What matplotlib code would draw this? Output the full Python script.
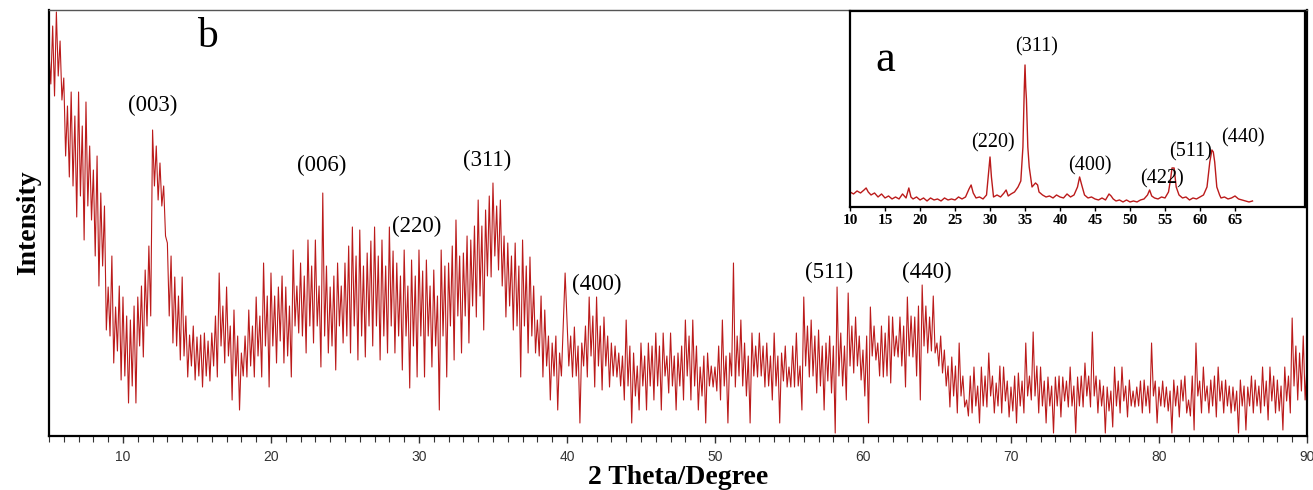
import numpy as np
import matplotlib.pyplot as plt
from matplotlib.ticker import MultipleLocator

# main pattern (b), sampled every 0.125 degree from 5 to 90 (one row = one degree)
two_theta_start = 5.0
two_theta_step = 0.125
intensity_b = [
    383, 352, 410, 340, 424, 360, 395, 336,
    358, 280, 330, 259, 344, 250, 320, 219,
    344, 240, 310, 196, 334, 230, 290, 216,
    266, 180, 280, 150, 243, 170, 230, 106,
    149, 100, 180, 73, 129, 85, 150, 56,
    139, 60, 120, 33, 116, 50, 130, 33,
    139, 90, 150, 79, 166, 110, 190, 120,
    306, 250, 290, 236, 273, 230, 250, 200,
    193, 120, 180, 93, 159, 90, 140, 76,
    159, 80, 120, 59, 101, 70, 110, 56,
    99, 60, 101, 49, 103, 60, 95, 55,
    103, 70, 120, 59, 163, 90, 130, 73,
    149, 80, 110, 36, 126, 60, 100, 26,
    83, 60, 100, 59, 126, 70, 110, 59,
    139, 80, 120, 59, 173, 90, 140, 49,
    163, 90, 140, 73, 149, 95, 160, 73,
    149, 80, 130, 59, 186, 110, 150, 103,
    173, 100, 160, 83, 196, 110, 170, 93,
    196, 110, 150, 69, 243, 100, 170, 83,
    149, 90, 160, 66, 173, 110, 150, 93,
    173, 100, 190, 83, 209, 110, 180, 76,
    206, 100, 170, 79, 183, 110, 195, 90,
    209, 110, 180, 76, 196, 100, 170, 83,
    209, 110, 185, 83, 173, 100, 160, 66,
    186, 100, 150, 48, 176, 90, 160, 59,
    186, 100, 165, 59, 176, 100, 150, 69,
    166, 90, 140, 26, 186, 100, 170, 59,
    173, 110, 190, 76, 216, 120, 180, 83,
    183, 120, 200, 93, 196, 130, 210, 119,
    236, 140, 210, 106, 226, 160, 240, 159,
    253, 180, 230, 166, 236, 150, 200, 119,
    193, 130, 180, 106, 193, 110, 170, 59,
    196, 110, 170, 83, 179, 100, 150, 83,
    116, 80, 140, 59, 126, 70, 100, 36,
    93, 60, 100, 26, 83, 60, 110, 163,
    116, 70, 100, 59, 109, 60, 90, 13,
    93, 70, 110, 59, 139, 80, 120, 49,
    139, 70, 110, 46, 119, 70, 100, 49,
    93, 60, 90, 59, 83, 50, 80, 36,
    116, 50, 90, 13, 83, 40, 70, 26,
    93, 50, 80, 26, 93, 50, 90, 36,
    103, 50, 90, 26, 103, 60, 80, 43,
    103, 50, 80, 26, 83, 50, 90, 36,
    116, 60, 100, 36, 116, 50, 90, 26,
    69, 40, 80, 13, 83, 50, 70, 49,
    69, 45, 90, 36, 116, 50, 80, 13,
    83, 60, 173, 49, 100, 60, 116, 50,
    93, 40, 80, 13, 103, 60, 90, 59,
    103, 60, 90, 49, 93, 50, 80, 36,
    103, 50, 80, 13, 83, 55, 90, 49,
    69, 49, 90, 49, 103, 50, 70, 26,
    139, 70, 110, 59, 116, 60, 100, 43,
    106, 50, 90, 26, 93, 55, 100, 43,
    90, 3, 149, 60, 103, 50, 90, 36,
    143, 70, 110, 63, 119, 70, 100, 56,
    86, 40, 100, 13, 129, 80, 110, 76,
    93, 60, 110, 59, 103, 60, 120, 53,
    119, 80, 100, 79, 119, 70, 110, 49,
    139, 80, 120, 79, 119, 60, 130, 36,
    151, 90, 130, 83, 119, 85, 140, 83,
    93, 70, 100, 63, 86, 50, 70, 29,
    79, 40, 70, 23, 93, 40, 60, 29,
    36, 20, 60, 23, 69, 30, 50, 13,
    69, 30, 60, 29, 83, 40, 60, 23,
    53, 30, 70, 23, 69, 35, 55, 19,
    49, 25, 60, 13, 63, 30, 55, 23,
    93, 40, 60, 36, 104, 40, 70, 23,
    69, 30, 55, 13, 59, 30, 50, 3,
    59, 30, 60, 19, 59, 35, 55, 29,
    69, 30, 50, 3, 59, 30, 60, 29,
    73, 40, 60, 29, 104, 40, 60, 23,
    56, 30, 50, 3, 49, 25, 45, 9,
    69, 30, 55, 23, 69, 35, 50, 19,
    56, 30, 45, 29, 49, 30, 55, 23,
    56, 30, 50, 23, 93, 40, 55, 13,
    49, 30, 55, 29, 49, 25, 45, 3,
    56, 30, 50, 19, 56, 35, 60, 23,
    36, 20, 60, 6, 93, 40, 55, 23,
    69, 35, 50, 23, 56, 30, 60, 19,
    69, 35, 55, 23, 56, 30, 50, 23,
    49, 25, 45, 3, 56, 30, 50, 6,
    49, 30, 60, 23, 56, 30, 50, 23,
    69, 30, 55, 16, 69, 35, 60, 23,
    56, 25, 50, 6, 69, 35, 60, 23,
    118, 50, 90, 36, 83, 45, 100, 36,
    69,
]
two_theta_b = two_theta_start + two_theta_step * np.arange(len(intensity_b))

peaks_b = ["(003)", "(006)", "(220)", "(311)", "(400)", "(511)", "(440)"]
peaks_b_x = [12.0, 23.45, 29.86, 34.6, 42.0, 57.7, 64.3]
peaks_b_y = [331, 271, 210, 276, 152, 164, 164]

# inset pattern (a)
two_theta_a = [
    10.0, 10.5, 11.0, 11.5, 12.0, 12.3, 12.6, 13.0, 13.5, 14.0, 14.5, 15.0, 15.5, 16.0,
    16.5, 17.0, 17.5, 18.0, 18.4, 18.7, 19.0, 19.5, 20.0, 20.5, 21.0, 21.5, 22.0, 22.5,
    23.0, 23.5, 24.0, 24.5, 25.0, 25.5, 26.0, 26.5, 27.0, 27.3, 27.6, 28.0, 28.5, 29.0,
    29.5, 29.8, 30.0, 30.2, 30.5, 31.0, 31.5, 32.0, 32.3, 32.6, 33.0, 33.5, 34.0, 34.4,
    34.7, 34.9, 35.0, 35.1, 35.2, 35.4, 35.6, 36.0, 36.5, 36.8, 37.0, 37.5, 38.0, 38.5,
    39.0, 39.5, 40.0, 40.5, 41.0, 41.5, 42.0, 42.5, 42.8, 43.1, 43.5, 44.0, 44.5, 45.0,
    45.5, 46.0, 46.5, 47.0, 47.3, 47.6, 48.0, 48.5, 49.0, 49.5, 50.0, 50.5, 51.0, 51.5,
    52.0, 52.5, 52.8, 53.1, 53.5, 54.0, 54.5, 55.0, 55.5, 55.8, 56.0, 56.3, 56.6, 57.0,
    57.5, 58.0, 58.5, 59.0, 59.5, 60.0, 60.5, 61.0, 61.4, 61.7, 61.9, 62.1, 62.4, 62.8,
    63.0, 63.5, 64.0, 64.5, 65.0, 65.5, 66.0, 66.5, 67.0, 67.5,
]
intensity_a = [
    15, 13, 16, 14, 17, 19, 15, 12, 14, 10, 13, 9, 11, 8,
    10, 8, 13, 9, 19, 10, 8, 10, 7, 9, 6, 9, 7, 8,
    6, 9, 7, 8, 7, 10, 8, 10, 18, 22, 14, 9, 10, 8,
    12, 35, 50, 30, 10, 12, 10, 14, 17, 11, 13, 15, 20, 26,
    60, 120, 142, 120, 108, 60, 40, 20, 24, 22, 15, 12, 10, 11,
    9, 12, 10, 9, 13, 10, 12, 20, 30, 22, 12, 9, 10, 8,
    7, 9, 7, 13, 11, 8, 6, 7, 5, 7, 5, 6, 5, 7,
    8, 12, 17, 11, 9, 8, 10, 9, 15, 28, 39, 39, 20, 12,
    9, 10, 7, 9, 8, 10, 12, 20, 45, 57, 55, 45, 20, 12,
    9, 10, 8, 9, 11, 8, 7, 6, 5, 6,
]
peaks_a = ["(220)", "(311)", "(400)", "(422)", "(511)", "(440)"]
peaks_a_x = [30.4, 36.6, 44.3, 54.6, 58.6, 66.1]
peaks_a_y = [64, 160, 41, 28, 55, 69]

serif = "Liberation Serif"
sans = "Liberation Sans"
line_red = "#bb1b1b"

fig = plt.figure(figsize=(13.13, 4.9), dpi=100)
ax = fig.add_axes([0.0373, 0.1102, 0.9581, 0.8694])
ax.plot(two_theta_b, intensity_b, color=line_red, lw=0.8)
ax.set_xlim(5, 90)
ax.set_ylim(0, 426)
ax.set_yticks([])
ax.set_xticks(range(10, 91, 10))
ax.xaxis.set_minor_locator(MultipleLocator(1))
ax.tick_params(axis="x", which="both", direction="out", color="#333333")
ax.tick_params(axis="x", which="major", length=5, width=1, labelsize=10,
               labelcolor="#333333", pad=5)
ax.tick_params(axis="x", which="minor", length=4, width=0.8)
for lab in ax.get_xticklabels():
    lab.set_fontfamily(sans)
for side in ["left", "bottom", "right"]:
    ax.spines[side].set_linewidth(1.6)
    ax.spines[side].set_color("black")
ax.spines["top"].set_linewidth(1.0)
ax.spines["top"].set_color("#555555")

ax.set_xlabel("2 Theta/Degree", fontfamily=serif, fontweight="bold", fontsize=20, labelpad=1)
ax.set_ylabel("Intensity", fontfamily=serif, fontweight="bold", fontsize=20, labelpad=6)

for lab, px, py in zip(peaks_b, peaks_b_x, peaks_b_y):
    ax.text(px, py, lab, ha="center", va="center", fontfamily=serif, fontsize=16.5)
ax.text(15.7, 399, "b", ha="center", va="center", fontfamily=serif, fontsize=30)

# inset
axin = fig.add_axes([0.6474, 0.5776, 0.3465, 0.4])
axin.plot(two_theta_a, intensity_a, color=line_red, lw=1.0)
axin.set_xlim(10, 75)
axin.set_ylim(0, 196)
axin.set_yticks([])
axin.set_xticks(range(10, 66, 5))
axin.tick_params(axis="x", direction="out", length=3, width=1, labelsize=11, pad=2)
for lab in axin.get_xticklabels():
    lab.set_fontfamily(serif)
    lab.set_fontweight("bold")
for side in axin.spines.values():
    side.set_linewidth(1.6)
    side.set_color("black")
for lab, px, py in zip(peaks_a, peaks_a_x, peaks_a_y):
    axin.text(px, py, lab, ha="center", va="center", fontfamily=serif, fontsize=14.5)
axin.text(15.0, 147, "a", ha="center", va="center", fontfamily=serif, fontsize=32)

fig.savefig("out.png", dpi=100)
